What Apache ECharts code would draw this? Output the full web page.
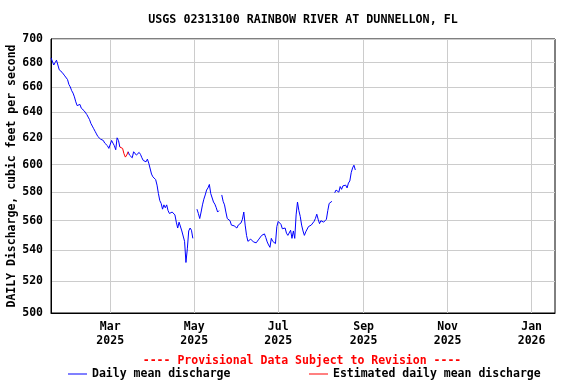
<!DOCTYPE html>
<html>
<head>
<meta charset="utf-8">
<script src="https://cdn.jsdelivr.net/npm/echarts@6/dist/echarts.min.js"></script>
<style>
	html, body { margin: 0; padding: 0; background: #fff; }
	#chart { width: 576px; height: 384px; }
</style>
</head>
<body>
<div id="chart"></div>
<script>
	// daily mean discharge, one value per day from firstDay (null = no data)
	var firstDay = [2025, 0, 17];
	var discharge = [
		684, 683, 678, 680, 682, 678, 674, 673, 672, 671,
		669, 668, 666, 662, 660, 657, 655, 652, 648, 645,
		645, 646, 643, 643, 641, 640, 638, 636, 634, 631,
		629, 627, 625, 623, 621, 620, 619, 619, 618, 616,
		616, 614, 612, 613, 618, 616, 614, 611, 620, 618,
		613, 612.6, 612, 608, 605.5, 607, 609.5, 607, 606, 605,
		609.5, 608.5, 607, 606, 609, 607.5, 605, 603, 602.5, 602,
		604, 601, 600, 593, 591, 592, 589, 585, 579,
		574, 572, 568, 571, 569, 571, 567, 565, 566, 566,
		567, 564, 559, 555, 559, 558, 553, 552, 546, 532,
		541, 553, 555, 553.5, 548, null, null, 568, 565, 561.5,
		566, 571, 575, 578, 581.5, 583, 585.5, 579, 579.5, 573,
		571.5, 569, 566, 567, null, 578, 573.5, 571, 566, 561.5,
		561, 560, 557, 556, 556.5, 556, 555, 557, 558, 558.5,
		561, 566, 557, 550, 546, 545, 547.5, 548.5, 545.6, 546.5,
		545, 545.6, 547.5, 548.7, 550, 551, 551, 548.5, 545.6, 543.6,
		542, 548, 546, 547, 544.5, 556, 559.5, 559.5, 557.5, 554.5,
		554, 555, 551.5, 550, 549, 553.5, 548, 553, 548,
		564, 573, 567, 563, 557, 553, 550, 552.4, 553.5, 556,
		555, 557, 556.5, 559.5, 561.5, 564.5, 561, 558, 560, 559.2,
		559, 559.5, 561, 567, 572, 573, 573.5, null,
		579.5, 581.5, 581.5, 580, 584, 582, 584.5, 585, 585, 583, 586.5, 588,
		594, 597.5, 599.5, 596
	];
	// days (index into discharge) shown as estimated
	var estimatedFirst = 50;
	var estimatedLast = 56;

	var yTicks = [500, 520, 540, 560, 580, 600, 620, 640, 660, 680, 700];
	var xTicks = ['2025-03-01', '2025-05-01', '2025-07-01', '2025-09-01', '2025-11-01', '2026-01-01'];
	var monthNames = ['Jan', 'Feb', 'Mar', 'Apr', 'May', 'Jun', 'Jul', 'Aug', 'Sep', 'Oct', 'Nov', 'Dec'];

	var mono = '"DejaVu Sans Mono", "Liberation Mono", monospace';

	var blueData = [];
	var redData = [];
	for (var i = 0; i < discharge.length; i++) {
		var t = new Date(firstDay[0], firstDay[1], firstDay[2] + i).getTime();
		var v = discharge[i];
		var isEst = i >= estimatedFirst && i <= estimatedLast;
		var inside = i > estimatedFirst && i < estimatedLast;
		blueData.push([t, inside ? null : v]);
		redData.push([t, isEst ? v : null]);
	}
	var xTickTimes = xTicks.map(function (s) {
		var p = s.split('-');
		return new Date(+p[0], +p[1] - 1, +p[2]).getTime();
	});

	var labelStyle = {
		color: '#000',
		fontFamily: mono,
		fontWeight: 'bold',
		fontSize: 11.5
	};

	var option = {
		animation: false,
		backgroundColor: '#fff',
		graphic: [{
				type: 'text',
				x: 303,
				y: 20,
				style: {
					text: 'USGS 02313100 RAINBOW RIVER AT DUNNELLON, FL',
					align: 'center',
					verticalAlign: 'middle',
					font: 'bold 11.7px ' + mono,
					fill: '#000'
				}
			},
			{
				type: 'text',
				x: 302,
				y: 361,
				style: {
					text: '---- Provisional Data Subject to Revision ----',
					align: 'center',
					verticalAlign: 'middle',
					font: 'bold 11.5px ' + mono,
					fill: '#ff0000'
				}
			}
		],
		legend: [{
				data: ['Daily mean discharge'],
				left: 68,
				top: 368,
				padding: 0,
				icon: 'rect',
				itemWidth: 19,
				itemHeight: 1,
				selectedMode: false,
				textStyle: labelStyle
			},
			{
				data: ['Estimated daily mean discharge'],
				left: 309,
				top: 368,
				padding: 0,
				icon: 'rect',
				itemWidth: 19,
				itemHeight: 1,
				selectedMode: false,
				textStyle: labelStyle
			}
		],
		grid: {
			left: 51,
			right: 21,
			top: 39,
			bottom: 71,
			show: true,
			borderColor: '#000',
			borderWidth: 1,
			outerBoundsMode: 'none'
		},
		xAxis: {
			type: 'value',
			min: new Date(2025, 0, 17).getTime(),
			max: new Date(2026, 0, 18).getTime(),
			axisLine: {
				lineStyle: {
					color: '#000'
				}
			},
			axisTick: {
				show: false,
				customValues: xTickTimes
			},
			axisLabel: Object.assign({
				customValues: xTickTimes,
				margin: 7,
				lineHeight: 14,
				formatter: function (value) {
					var d = new Date(value);
					return monthNames[d.getMonth()] + '\n' + d.getFullYear();
				}
			}, labelStyle),
			splitLine: {
				show: true,
				lineStyle: {
					color: '#cccccc'
				}
			}
		},
		yAxis: {
			type: 'log',
			logBase: 10,
			min: 500,
			max: 700,
			name: 'DAILY Discharge, cubic feet per second',
			nameLocation: 'middle',
			nameGap: 33,
			nameMoveOverlap: false,
			nameTextStyle: labelStyle,
			axisLine: {
				show: true,
				lineStyle: {
					color: '#000'
				}
			},
			axisTick: {
				show: false,
				customValues: yTicks
			},
			axisLabel: Object.assign({
				customValues: yTicks,
				margin: 8
			}, labelStyle),
			splitLine: {
				show: true,
				lineStyle: {
					color: '#cccccc'
				}
			}
		},
		series: [{
				name: 'Daily mean discharge',
				type: 'line',
				data: blueData,
				symbol: 'none',
				connectNulls: false,
				color: '#0000ff',
				lineStyle: {
					color: '#0000ff',
					width: 1
				}
			},
			{
				name: 'Estimated daily mean discharge',
				type: 'line',
				data: redData,
				symbol: 'none',
				connectNulls: false,
				color: '#ff0000',
				lineStyle: {
					color: '#ff0000',
					width: 1
				}
			}
		]
	};

	var chart = echarts.init(document.getElementById('chart'));
	chart.setOption(option);
</script>
</body>
</html>
